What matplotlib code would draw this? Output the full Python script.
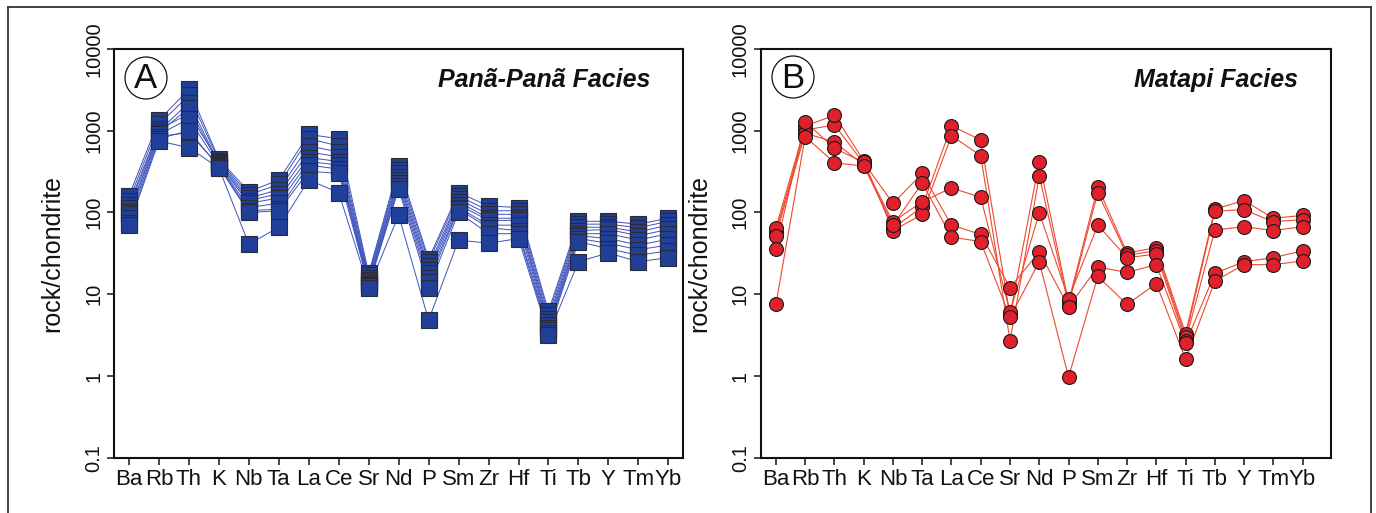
import matplotlib
matplotlib.use("Agg")
import matplotlib.pyplot as plt
from matplotlib.lines import Line2D
from matplotlib.patches import Circle
from matplotlib.ticker import FixedLocator, NullLocator

plt.rcParams["font.family"] = ["Liberation Sans", "DejaVu Sans"]

# Chondrite-normalised multi-element pattern (spider diagram)
elements = ["Ba", "Rb", "Th", "K", "Nb", "Ta", "La", "Ce", "Sr", "Nd",
            "P", "Sm", "Zr", "Hf", "Ti", "Tb", "Y", "Tm", "Yb"]

# Panã-Panã facies samples
pana_1 = [160, 1350, 3200, 450, 180, 250, 900, 800, 18, 370, 27, 175, 120, 115, 6.2, 78, 78, 72, 85]
pana_2 = [140, 1200, 2700, 430, 165, 220, 800, 650, 17, 330, 25, 160, 105, 105, 5.6, 72, 72, 65, 78]
pana_3 = [125, 1050, 1600, 420, 150, 190, 650, 550, 16, 300, 22, 145, 95, 95, 5.0, 66, 66, 58, 70]
pana_4 = [115, 1000, 2200, 400, 140, 170, 550, 480, 15, 270, 20, 135, 85, 85, 4.6, 60, 62, 52, 62]
pana_5 = [100, 950, 1900, 390, 130, 150, 470, 420, 14, 250, 18, 125, 80, 80, 4.2, 55, 55, 46, 55]
pana_6 = [95, 900, 1400, 380, 115, 130, 420, 380, 13.5, 230, 16, 115, 70, 70, 3.9, 52, 48, 40, 47]
pana_7 = [85, 850, 950, 370, 105, 110, 380, 340, 13, 210, 14, 110, 65, 60, 3.6, 48, 42, 35, 40]
pana_8 = [75, 800, 1000, 360, 100, 105, 320, 300, 12.5, 195, 12, 100, 55, 55, 3.4, 44, 36, 30, 34]
pana_9 = [70, 750, 620, 350, 41, 66, 250, 175, 12, 93, 4.8, 46, 42, 48, 3.2, 25, 32, 25, 28]

# Matapi facies samples
matapi_1 = [58, 1020, 1180, 400, 64, 117, 1150, 770, 5.6, 420, 8.0, 205, 32, 37, 3.3, 110, 140, 85, 92]
matapi_2 = [65, 1140, 1550, 430, 60, 95, 870, 495, 2.7, 280, 7.4, 175, 30, 34, 3.0, 104, 108, 77, 82]
matapi_3 = [52, 930, 730, 380, 77, 135, 200, 153, 6.0, 99, 8.8, 70, 28, 31, 2.7, 61, 67, 60, 67]
matapi_4 = [36, 1290, 610, 410, 129, 300, 70, 54, 12, 33, 7.0, 21.5, 18.5, 23, 2.5, 18, 25, 28, 34]
matapi_5 = [7.5, 850, 405, 370, 70, 230, 50, 44, 5.2, 25, 0.97, 16.5, 7.5, 13.5, 1.6, 14.5, 23, 23, 25.5]

pana_samples = [pana_1, pana_2, pana_3, pana_4, pana_5, pana_6, pana_7, pana_8, pana_9]
matapi_samples = [matapi_1, matapi_2, matapi_3, matapi_4, matapi_5]

y_ticks = [0.1, 1, 10, 100, 1000, 10000]
y_tick_labels = ["0.1", "1", "10", "100", "1000", "10000"]

W, H = 1376, 513
fig = plt.figure(figsize=(W / 100, H / 100), dpi=100)
fig.patch.set_facecolor("white")

ax_a = fig.add_axes([114.3 / W, 1 - 457.7 / H, 569.0 / W, 408.7 / H])
ax_b = fig.add_axes([761.0 / W, 1 - 457.7 / H, 569.7 / W, 408.7 / H])

x = list(range(len(elements)))


def style_axes(ax, xlim):
    ax.set_yscale("log")
    ax.set_ylim(0.1, 10000)
    ax.set_xlim(*xlim)
    ax.yaxis.set_major_locator(FixedLocator(y_ticks))
    ax.yaxis.set_minor_locator(NullLocator())
    ax.set_yticklabels(y_tick_labels)
    ax.set_xticks(x)
    ax.set_xticklabels(elements)
    for s in ax.spines.values():
        s.set_linewidth(1.5)
        s.set_color("#111111")
    ax.tick_params(axis="y", labelrotation=90, labelsize=14.5, length=5,
                   width=1.1, pad=3, colors="#111111")
    ax.tick_params(axis="x", labelsize=16, length=5, width=1.1, pad=3,
                   colors="#111111")
    for lab in ax.get_yticklabels():
        lab.set_verticalalignment("center")
    ax.set_ylabel("rock/chondrite", fontsize=18, color="#111111")
    ax.yaxis.set_label_coords(-0.088, 0.5)


# Panel A
for s in pana_samples:
    ax_a.plot(x, s, color="#3d52bd", lw=0.7, zorder=2)
for s in pana_samples:
    ax_a.plot(x, s, ls="none", marker="s", ms=11, mfc="#1f3f98",
              mec="#2a2a38", mew=0.8, zorder=3)
style_axes(ax_a, (-0.49, 18.5))
ax_a.text(0.943, 0.924, "Panã-Panã Facies", transform=ax_a.transAxes,
          ha="right", va="center", fontsize=18, fontweight="bold",
          fontstyle="italic", color="#111111")

# Panel B
for s in matapi_samples:
    ax_b.plot(x, s, color="#f0482e", lw=0.8, zorder=2)
for s in matapi_samples:
    ax_b.plot(x, s, ls="none", marker="o", ms=10, mfc="#e0202a",
              mec="#1a1a1a", mew=0.8, zorder=3)
style_axes(ax_b, (-0.51, 18.96))
ax_b.text(0.943, 0.924, "Matapi Facies", transform=ax_b.transAxes,
          ha="right", va="center", fontsize=18, fontweight="bold",
          fontstyle="italic", color="#111111")

# Panel letters in circles
for cx, cy, letter in [(146, 78, "A"), (793, 77, "B")]:
    fig.patches.append(Circle((cx / 100, (H - cy) / 100), 0.21,
                              transform=fig.dpi_scale_trans, fill=False,
                              lw=0.9, ec="#111111"))
    fig.text(cx / W, 1 - (cy + 1) / H, letter, ha="center", va="center",
             fontsize=25, color="#111111")

# Outer frame (open at the bottom)
fx0, fx1, fy = 7.5 / W, 1371 / W, 1 - 6.5 / H
for xs, ys in [([fx0, fx0], [0, fy]), ([fx0, fx1], [fy, fy]), ([fx1, fx1], [fy, 0])]:
    fig.lines.append(Line2D(xs, ys, transform=fig.transFigure,
                            color="#333333", lw=1.3))

fig.savefig("out.png", dpi=100)
